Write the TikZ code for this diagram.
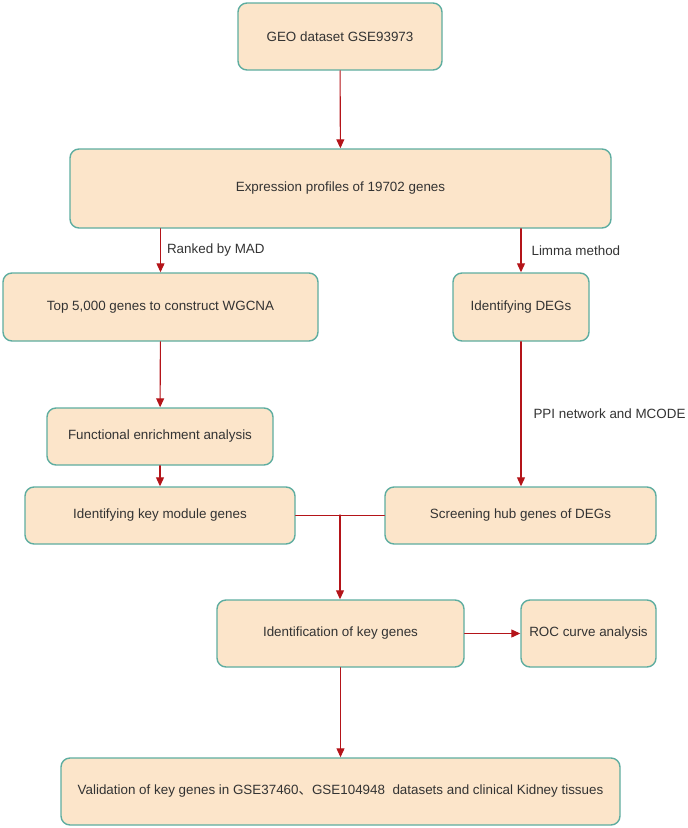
\documentclass[tikz,border=0pt]{standalone}
\usepackage{fontspec}
\setmainfont{Liberation Sans}
\newfontfamily\cjkfont{Noto Sans CJK SC}
\usepackage{tikz}
\usetikzlibrary{arrows.meta, calc, positioning}
\usepackage{xcolor}
\definecolor{boxfill}{RGB}{252, 229, 202}
\definecolor{boxline}{RGB}{94, 173, 160}
\definecolor{flowred}{RGB}{180, 20, 25}
\definecolor{textgray}{RGB}{51, 51, 51}

\begin{document}
\begin{tikzpicture}[x=1pt, y=-1pt, line cap=round, line join=round,
	box/.style={rectangle, rounded corners=9pt, draw=boxline, line width=1.4pt, fill=boxfill,
		text=textgray, inner sep=0pt, font=\fontsize{13.4}{16}\selectfont},
	flow/.style={-{Triangle[length=9pt,width=8pt]}, flowred, line width=1.1pt},
	link/.style={-, flowred, line width=1.1pt},
	note/.style={text=textgray, font=\fontsize{13.4}{16}\selectfont, inner sep=0pt}]
		% page frame
		\useasboundingbox (0,0) rectangle (688,828);
		
		% boxes
		\node [box, minimum width=204pt, minimum height=67pt] (geo) at (340,36.5) {GEO dataset GSE93973};
		\node [box, minimum width=541pt, minimum height=79pt] (expr) at (340.5,188.5) {Expression profiles of 19702 genes};
		\node [box, minimum width=315pt, minimum height=68pt] (top) at (160.5,307) {Top 5,000 genes to construct WGCNA};
		\node [box, minimum width=136pt, minimum height=68pt] (degs) at (521,307) {Identifying DEGs};
		\node [box, minimum width=226pt, minimum height=57pt] (func) at (160,436.5) {Functional enrichment analysis};
		\node [box, minimum width=270pt, minimum height=57pt] (keymod) at (160,515.5) {Identifying key module genes};
		\node [box, minimum width=271pt, minimum height=57pt] (hub) at (520.5,515.5) {Screening hub genes of DEGs};
		\node [box, minimum width=247pt, minimum height=67pt] (keyg) at (340.5,633.5) {Identification of key genes};
		\node [box, minimum width=135pt, minimum height=67pt] (roc) at (588.5,633.5) {ROC curve analysis};
		\node [box, minimum width=559pt, minimum height=67pt] (valid) at (340.5,791.5) {Validation of key genes in GSE37460{\cjkfont 、}GSE104948\ \ datasets and clinical Kidney tissues};
		
		% connectors
		\draw [flow] (geo) -- (expr);
		\draw [flow] (top.north |- expr.south) -- (top.north) node[note, right=6pt, midway] {Ranked by MAD};
		\draw [flow] (degs.north |- expr.south) -- (degs.north) node[note, right=10pt, midway] {Limma method};
		\draw [flow] (top) -- (func);
		\draw [flow] (func) -- (keymod);
		\draw [flow] (degs) -- (hub.north -| degs) node[note, right=12pt, midway] {PPI network and MCODE};
		
		\coordinate (j) at (340,515);
		\draw [link] (keymod.east) -- (hub.west);
		\draw [flow] (j) -- (j |- keyg.north);
		\draw [flow] (keyg) -- (roc);
		\draw [flow] (keyg) -- (valid);

\end{tikzpicture}
\end{document}
